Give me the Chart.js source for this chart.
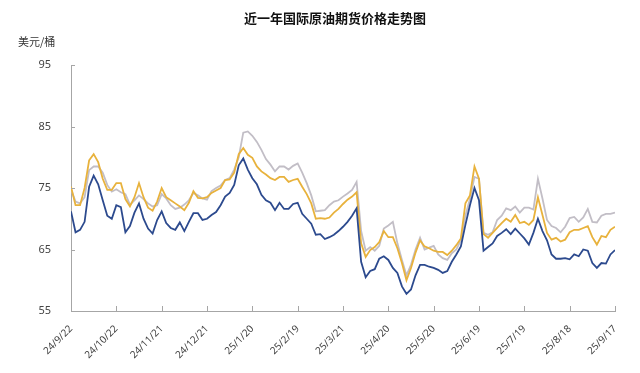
<!DOCTYPE html>
<html>
<head>
<meta charset="utf-8">
<script src="https://cdn.jsdelivr.net/npm/chart.js@4.4.1/dist/chart.umd.min.js"></script>
<style>
  html, body { margin: 0; padding: 0; background: #fff; }
  #wrap { width: 640px; height: 373px; }
</style>
</head>
<body>
<div id="wrap"><canvas id="oilChart" width="640" height="373"></canvas></div>
<script>
// 近一年国际原油期货价格 (美元/桶), roughly 10 samples per month
const titleText = '近一年国际原油期货价格走势图';
const unitText = '美元/桶';
const tickLabels = ['24/9/22', '24/10/22', '24/11/21', '24/12/21', '25/1/20', '25/2/19', '25/3/21',
  '25/4/20', '25/5/20', '25/6/19', '25/7/19', '25/8/18', '25/9/17'];
const pointsPerTick = 10;

const wti = [
  71.2, 67.8, 68.2, 69.5, 75.2, 77.0, 75.6, 73.0, 70.5, 70.0,
  72.2, 71.9, 67.8, 68.8, 71.0, 72.5, 70.0, 68.4, 67.6, 69.8,
  71.2, 69.3, 68.5, 68.2, 69.4, 68.0, 69.5, 70.9, 70.9, 69.8,
  70.0, 70.6, 71.1, 72.2, 73.6, 74.2, 75.5, 78.7, 79.8, 78.0,
  76.6, 75.6, 73.9, 73.0, 72.6, 71.4, 72.6, 71.6, 71.6, 72.4,
  72.6, 70.8, 70.0, 69.2, 67.4, 67.5, 66.7, 67.0, 67.4, 68.0,
  68.7, 69.5, 70.5, 71.7, 63.0, 60.5, 61.5, 61.8, 63.5, 63.9,
  63.3, 62.0, 61.2, 59.0, 57.8, 58.5, 60.8, 62.5, 62.5, 62.2,
  62.0, 61.7, 61.2, 61.5, 63.0, 64.2, 65.5, 69.0, 72.2, 75.0,
  73.0, 64.8, 65.4, 66.0, 67.2, 67.7, 68.3, 67.5, 68.4, 67.6,
  66.8, 65.8, 67.7, 70.0, 68.0, 66.5, 64.2, 63.5, 63.5, 63.6,
  63.4, 64.2, 63.9, 65.0, 64.8, 62.8, 62.0, 62.8, 62.7, 64.2,
  64.9
];

const brent = [
  75.2, 72.2, 72.2, 75.0, 79.5, 80.5, 79.2, 76.5, 74.7, 74.7,
  75.8, 75.8, 73.2, 72.0, 73.5, 75.8, 73.5, 71.8, 71.3, 72.8,
  75.0, 73.5, 73.0, 72.5, 72.0, 71.4, 72.6, 74.5, 73.4, 73.3,
  73.5, 74.2, 74.6, 75.0, 76.3, 76.4, 77.5, 80.5, 81.5, 80.4,
  79.9, 78.5, 77.7, 77.2, 76.6, 76.3, 76.8, 76.8, 76.0, 76.3,
  76.5, 75.2, 74.0, 72.5, 70.0, 70.1, 70.0, 70.2, 71.0, 71.6,
  72.4, 73.1, 73.6, 74.3, 66.0, 63.8, 64.9, 65.4, 66.2, 68.0,
  67.0, 67.0, 65.2, 62.8, 60.0, 62.0, 64.5, 66.5, 65.5, 65.2,
  64.8, 64.6, 64.6, 64.1, 64.8, 65.7, 66.8, 72.5, 73.8, 78.5,
  76.5, 67.5, 66.9, 67.7, 68.5, 69.3, 70.0, 69.5, 70.6, 69.3,
  69.5, 69.0, 69.8, 73.5, 70.6, 67.7, 66.6, 66.9, 66.3, 66.6,
  67.8, 68.2, 68.2, 68.5, 68.8, 67.0, 65.8, 67.2, 67.0, 68.2,
  68.7
];

const dubai = [
  74.8, 72.8, 72.5, 73.5, 77.9, 78.5, 78.5, 77.5, 75.5, 74.4,
  74.8, 74.3, 74.0, 72.3, 73.0, 73.8, 73.2, 72.5, 72.0, 72.2,
  74.0, 73.3, 72.2, 71.6, 71.8, 72.3, 73.0, 74.2, 73.8, 73.3,
  73.1, 74.5, 75.0, 75.4, 76.3, 76.6, 78.0, 80.0, 84.0, 84.2,
  83.5, 82.5, 81.2, 79.7, 78.8, 77.7, 78.5, 78.5, 78.0, 78.6,
  79.0, 77.5, 75.8, 73.8, 71.2, 71.3, 71.4, 72.2, 72.8, 73.0,
  73.6, 74.1, 74.7, 76.0, 68.0, 64.8, 65.4, 64.8, 65.6, 68.4,
  68.9, 69.5, 66.0, 63.3, 60.8, 62.5, 65.0, 66.9, 65.0, 65.3,
  65.6, 64.2, 63.6, 63.3, 64.4, 65.0, 66.5, 70.5, 73.2, 76.8,
  76.5, 67.7, 67.4, 67.8, 69.8, 70.5, 71.7, 71.4, 72.0, 71.0,
  71.8, 71.8, 71.5, 76.5, 73.3, 69.8, 68.8, 68.5, 67.8, 68.7,
  70.1, 70.3, 69.5, 70.2, 71.6, 69.5, 69.4, 70.5, 70.8, 70.8,
  71.0
];

const toPoints = arr => arr.map((v, i) => ({ x: i, y: v }));

// title, unit label and the short inward tick marks
const decor = {
  id: 'decor',
  afterDraw(chart) {
    const ctx = chart.ctx;
    const xs = chart.scales.x, ys = chart.scales.y;
    ctx.save();
    ctx.strokeStyle = '#a6a6a6';
    ctx.lineWidth = 1;
    ctx.beginPath();
    xs.ticks.forEach((t, i) => {
      const px = Math.round(xs.getPixelForTick(i)) + 0.5;
      ctx.moveTo(px, xs.top);
      ctx.lineTo(px, xs.top - 5);
    });
    ys.ticks.forEach((t, i) => {
      const py = Math.round(ys.getPixelForTick(i)) + 0.5;
      ctx.moveTo(ys.right, py);
      ctx.lineTo(ys.right + 4, py);
    });
    ctx.stroke();

    ctx.fillStyle = '#111';
    ctx.font = 'bold 13px "Noto Sans CJK SC"';
    ctx.textAlign = 'center';
    ctx.textBaseline = 'middle';
    ctx.fillText(titleText, 335, 18);
    ctx.fillStyle = '#333';
    ctx.font = '11px "Noto Sans CJK SC"';
    ctx.textAlign = 'left';
    ctx.fillText(unitText, 18, 42);
    ctx.restore();
  }
};

const ctx = document.getElementById('oilChart').getContext('2d');
new Chart(ctx, {
  type: 'line',
  data: {
    datasets: [
      { label: 'WTI', data: toPoints(wti), borderColor: '#2c4a8e' },
      { label: '布伦特', data: toPoints(brent), borderColor: '#e8b23c' },
      { label: '迪拜', data: toPoints(dubai), borderColor: '#c2bec6' }
    ]
  },
  options: {
    responsive: false,
    animation: false,
    layout: { padding: { top: 65, right: 25, left: 0, bottom: 0 } },
    elements: {
      line: { borderWidth: 1.8, tension: 0 },
      point: { radius: 0 }
    },
    plugins: {
      legend: { display: false },
      tooltip: { enabled: false }
    },
    scales: {
      x: {
        type: 'linear',
        min: 0,
        max: (tickLabels.length - 1) * pointsPerTick,
        afterFit: s => { s.height = 62; },
        grid: { display: false },
        border: { display: true, color: '#a6a6a6', width: 1 },
        ticks: {
          stepSize: pointsPerTick,
          autoSkip: false,
          maxRotation: 45,
          minRotation: 45,
          padding: 4,
          color: '#444',
          font: { family: '"Noto Sans", "Noto Sans CJK SC"', size: 10 },
          callback: v => tickLabels[Math.round(v / pointsPerTick)]
        }
      },
      y: {
        min: 55,
        max: 95,
        afterFit: s => { s.width = 71; },
        grid: { display: false },
        border: { display: true, color: '#a6a6a6', width: 1 },
        ticks: {
          stepSize: 10,
          padding: 12,
          color: '#444',
          font: { family: '"Noto Sans", "Noto Sans CJK SC"', size: 11 }
        }
      }
    }
  },
  plugins: [decor]
});
</script>
</body>
</html>
